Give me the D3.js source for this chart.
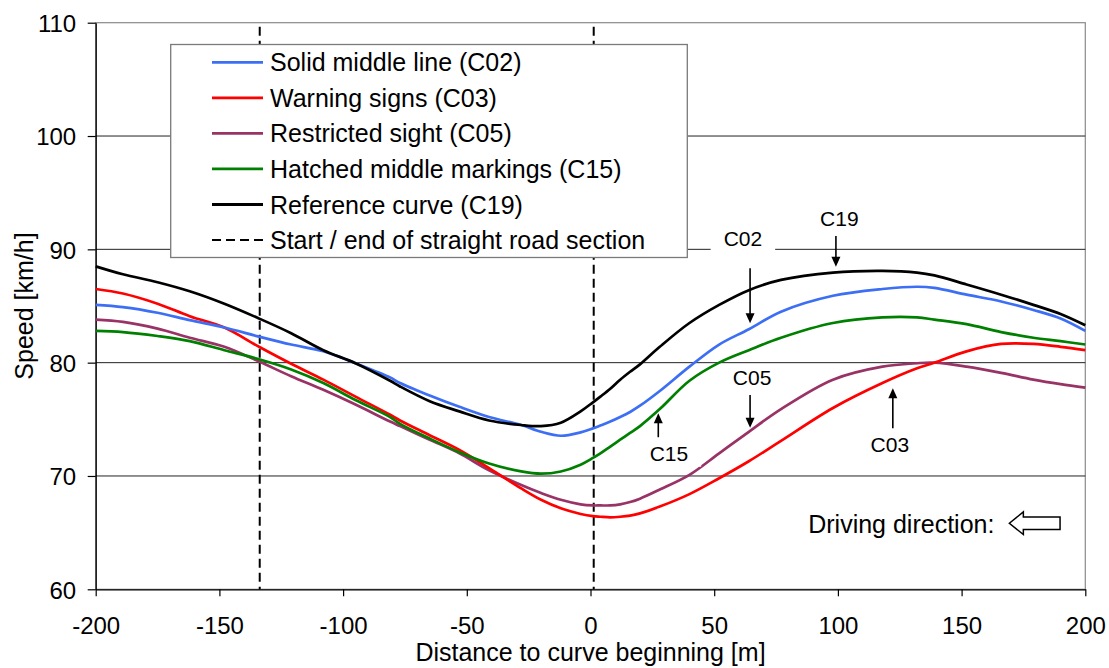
<!DOCTYPE html>
<html>
<head>
<meta charset="utf-8">
<script src="https://cdn.jsdelivr.net/npm/d3@7"></script>
<style>
  html, body { margin: 0; padding: 0; background: #fff; }
  svg { display: block; font-family: "Liberation Sans", Arial, Helvetica, sans-serif; }
</style>
</head>
<body>
<svg id="chart" width="1109" height="668"></svg>
<script>
// ---------------- DATA ----------------
const distance = [-200, -189, -175, -162, -148, -134, -121, -108, -95, -81,
                  -77, -65, -53, -41, -28, -20, -12, -4, 1, 4,
                  8, 12, 16, 20, 28, 40, 52, 64, 77, 98,
                  118, 132, 139, 152, 166, 179, 190, 200];

const speedC02 = [85.1, 84.9, 84.4, 83.75, 83.1, 82.3, 81.6, 81.0, 79.95, 78.7,
                  78.2, 77.1, 76.1, 75.2, 74.5, 73.9, 73.55, 73.85, 74.2, 74.45,
                  74.8, 75.2, 75.65, 76.2, 77.5, 79.65, 81.6, 82.95, 84.5, 85.9,
                  86.5, 86.7, 86.6, 86.0, 85.4, 84.65, 83.9, 82.8];

const speedC03 = [86.5, 86.1, 85.2, 84.1, 83.1, 81.4, 79.9, 78.5, 77.0, 75.4,
                  74.9, 73.6, 72.3, 70.7, 68.9, 67.9, 67.15, 66.65, 66.45, 66.4,
                  66.35, 66.4, 66.5, 66.7, 67.3, 68.4, 69.8, 71.3, 73.1, 76.0,
                  78.2, 79.5, 80.0, 81.0, 81.65, 81.65, 81.4, 81.1];

const speedC05 = [83.8, 83.6, 83.0, 82.2, 81.4, 80.1, 78.8, 77.6, 76.3, 74.8,
                  74.4, 73.2, 72.0, 70.5, 69.2, 68.5, 67.9, 67.5, 67.4, 67.4,
                  67.4, 67.5, 67.7, 68.0, 68.8, 70.1, 72.0, 73.9, 75.9, 78.5,
                  79.65, 79.95, 80.0, 79.65, 79.1, 78.5, 78.1, 77.8];

const speedC15 = [82.8, 82.7, 82.35, 81.9, 81.1, 80.3, 79.4, 78.2, 76.7, 75.2,
                  74.6, 73.3, 72.1, 71.1, 70.4, 70.2, 70.4, 71.0, 71.6, 72.0,
                  72.6, 73.2, 73.8, 74.4, 75.9, 78.4, 80.0, 81.1, 82.2, 83.5,
                  84.0, 84.0, 83.8, 83.4, 82.7, 82.2, 81.9, 81.6];

const speedC19 = [88.5, 87.8, 87.1, 86.3, 85.2, 83.9, 82.6, 81.1, 79.95, 78.4,
                  77.9, 76.6, 75.7, 74.9, 74.5, 74.4, 74.7, 75.7, 76.5, 77.0,
                  77.7, 78.5, 79.2, 79.85, 81.4, 83.5, 85.1, 86.4, 87.3, 87.95,
                  88.1, 87.95, 87.7, 86.9, 86.0, 85.1, 84.3, 83.3];

const seriesNames = ["Solid middle line (C02)", "Warning signs (C03)", "Restricted sight (C05)",
                     "Hatched middle markings (C15)", "Reference curve (C19)"];
const dashedLegendLabel = "Start / end of straight road section";
const straightSectionBounds = [-133.7, 1.3];

const xTicks = [-200, -150, -100, -50, 0, 50, 100, 150, 200];
const yTicks = [60, 70, 80, 90, 100, 110];
const yGrid = [70, 80, 90, 100];
const xTitle = "Distance to curve beginning [m]";
const yTitle = "Speed [km/h]";

// annotations: label, label position (x, y), arrow x, arrow from y -> to y (tip)
const annLabels = ["C02", "C19", "C05", "C15", "C03"];
const annLabelX = [61.6, 100.6, 65.3, 31.7, 121.0];
const annLabelY = [90.3, 92.07, 78.03, 71.35, 72.14];
const annArrowX = [64.5, 99.2, 64.5, 27.4, 122.2];
const annArrowFrom = [88.33, 91.18, 77.15, 73.42, 74.21];
const annArrowTo = [83.48, 88.47, 74.26, 75.53, 77.74];

const drivingText = "Driving direction:";
const drivingTextPos = [88, 64.94];
const drivingArrowTip = [169.3, 65.83];

// ---------------- STYLE ----------------
const colors = ["#3d6ff5", "#ff0000", "#993366", "#008000", "#000000"];
const plot = { left: 95.7, right: 1085.3, top: 22.7, bottom: 589.3 };
const FONT = "'Liberation Sans', Arial, sans-serif";

const svg = d3.select("#chart");
const x = d3.scaleLinear().domain([-200, 200]).range([plot.left, plot.right]);
const y = d3.scaleLinear().domain([60, 110]).range([plot.bottom, plot.top]);

// plot area border (grey, top and right)
svg.append("rect")
  .attr("x", plot.left).attr("y", plot.top)
  .attr("width", plot.right - plot.left).attr("height", plot.bottom - plot.top)
  .attr("fill", "#fff").attr("stroke", "#8a8a8a").attr("stroke-width", 1.2);

// gridlines
svg.append("g").selectAll("line").data(yGrid).join("line")
  .attr("x1", plot.left).attr("x2", plot.right)
  .attr("y1", d => y(d)).attr("y2", d => y(d))
  .attr("stroke", "#222").attr("stroke-width", 1);

// axes
const yAxis = d3.axisLeft(y).tickValues(yTicks).tickFormat(d => String(d))
  .tickSize(8).tickPadding(11.5).tickSizeOuter(0);
const gy = svg.append("g").attr("transform", `translate(${plot.left},0)`).call(yAxis);
gy.select(".domain").attr("stroke", "#000").attr("stroke-width", 1.3);
gy.selectAll(".tick line").attr("stroke", "#000").attr("stroke-width", 1.2);
gy.selectAll(".tick text").attr("font-size", 24).attr("fill", "#000")
  .attr("font-family", FONT).attr("dy", "0.37em");

const xAxis = d3.axisBottom(x).tickValues(xTicks).tickFormat(d => String(d))
  .tickSize(7).tickPadding(21).tickSizeOuter(0);
const gx = svg.append("g").attr("transform", `translate(0,${plot.bottom})`).call(xAxis);
gx.select(".domain").attr("stroke", "#000").attr("stroke-width", 1.3);
gx.selectAll(".tick line").attr("stroke", "#000").attr("stroke-width", 1.2);
gx.selectAll(".tick text").attr("font-size", 24).attr("fill", "#000")
  .attr("font-family", FONT).attr("dy", "0.71em");

// axis titles
svg.append("text").attr("x", (plot.left + plot.right) / 2).attr("y", 661)
  .attr("text-anchor", "middle").attr("font-size", 25).text(xTitle);
svg.append("text").attr("transform", `translate(33,${(plot.top + plot.bottom) / 2}) rotate(-90)`)
  .attr("text-anchor", "middle").attr("font-size", 25).text(yTitle);

// dashed verticals
svg.append("g").selectAll("line").data(straightSectionBounds).join("line")
  .attr("x1", d => x(d)).attr("x2", d => x(d))
  .attr("y1", plot.top + 4).attr("y2", plot.bottom)
  .attr("stroke", "#000").attr("stroke-width", 2).attr("stroke-dasharray", "9,5");

// series lines
const series = [speedC02, speedC03, speedC05, speedC15, speedC19];
const line = d3.line().x((d, i) => x(distance[i])).y(d => y(d)).curve(d3.curveCatmullRom.alpha(0.5));
const order = [2, 1, 3, 0, 4];
svg.append("g").selectAll("path").data(order).join("path")
  .attr("d", k => line(series[k]))
  .attr("fill", "none").attr("stroke", k => colors[k]).attr("stroke-width", 2.7)
  .attr("stroke-linejoin", "round");

// annotations
const ann = svg.append("g");
annLabels.forEach((lab, i) => {
  const t = ann.append("text").attr("x", x(annLabelX[i])).attr("y", y(annLabelY[i]))
    .attr("text-anchor", "middle").attr("font-size", 21).text(lab);
  const bb = t.node().getBBox();
  ann.insert("rect", "text").attr("x", bb.x - 13).attr("y", bb.y - 1)
    .attr("width", bb.width + 26).attr("height", bb.height + 3).attr("fill", "#fff");
  const ax = x(annArrowX[i]), y0 = y(annArrowFrom[i]), y1 = y(annArrowTo[i]);
  const dir = y1 > y0 ? 1 : -1;
  ann.append("line").attr("x1", ax).attr("x2", ax).attr("y1", y0).attr("y2", y1 - dir * 6)
    .attr("stroke", "#000").attr("stroke-width", 1.6);
  ann.append("path")
    .attr("d", `M${ax},${y1} L${ax - 4.5},${y1 - dir * 10} L${ax + 4.5},${y1 - dir * 10} Z`)
    .attr("fill", "#000");
});

// driving direction
svg.append("text").attr("x", x(drivingTextPos[0])).attr("y", y(drivingTextPos[1]))
  .attr("font-size", 25).text(drivingText);
{
  const tx = x(drivingArrowTip[0]), cy = y(drivingArrowTip[1]);
  svg.append("path")
    .attr("d", `M${tx},${cy} L${tx + 14},${cy - 11.3} L${tx + 14},${cy - 6.2} L${tx + 50.7},${cy - 6.2} L${tx + 50.7},${cy + 6.2} L${tx + 14},${cy + 6.2} L${tx + 14},${cy + 11.3} Z`)
    .attr("fill", "#fff").attr("stroke", "#000").attr("stroke-width", 1.5).attr("stroke-linejoin", "miter");
}

// legend
const lg = svg.append("g");
const lgBox = { x: 170.7, y: 44.5, w: 516.6, h: 213 };
lg.append("rect").attr("x", lgBox.x).attr("y", lgBox.y).attr("width", lgBox.w).attr("height", lgBox.h)
  .attr("fill", "#fff").attr("stroke", "#7a7a7a").attr("stroke-width", 1.3);
const legendLabels = seriesNames.concat([dashedLegendLabel]);
legendLabels.forEach((lab, i) => {
  const ly = 62.3 + i * 35.55;
  const ln = lg.append("line").attr("x1", 212).attr("x2", 263).attr("y1", ly).attr("y2", ly)
    .attr("stroke", i < 5 ? colors[i] : "#000").attr("stroke-width", i < 5 ? 2.8 : 2);
  if (i === 5) ln.attr("stroke-dasharray", "9,5");
  lg.append("text").attr("x", 270).attr("y", ly + 9).attr("font-size", 25).text(lab);
});
</script>
</body>
</html>
